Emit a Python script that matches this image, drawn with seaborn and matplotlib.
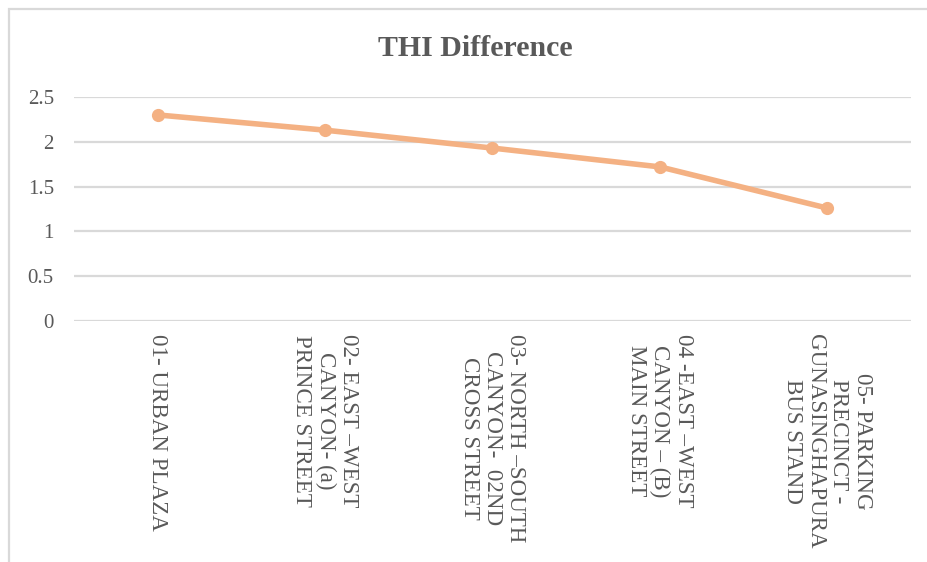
import matplotlib
matplotlib.use("Agg")
import matplotlib.pyplot as plt
import seaborn as sns
import pandas as pd
from matplotlib.patches import Rectangle

categories = [
    "01- URBAN PLAZA",
    "02- EAST \u2013WEST\nCANYON- (a)\nPRINCE STREET",
    "03- NORTH \u2013SOUTH\nCANYON-  02ND\nCROSS STREET",
    "04 -EAST \u2013WEST\nCANYON \u2013 (B)\nMAIN STREET",
    "05- PARKING\nPRECINCT -\nGUNASINGHAPURA\nBUS STAND",
]
thi_difference = [2.30, 2.13, 1.93, 1.72, 1.26]
y_ticks = [0, 0.5, 1, 1.5, 2, 2.5]
y_tick_labels = ["0", "0.5", "1", "1.5", "2", "2.5"]

sns.set_theme(style="white")
plt.rcParams["font.family"] = ["Liberation Serif", "DejaVu Serif"]

TEXT = "#595959"
GRID = "#D9D9D9"
LINE = "#F4B183"

fig = plt.figure(figsize=(9.28, 5.62), dpi=100)
ax = fig.add_axes([74 / 928, 1 - 321 / 562, (911 - 74) / 928, (321 - 97) / 562])

df = pd.DataFrame({"cat": categories, "val": thi_difference})
sns.lineplot(data=df, x="cat", y="val", sort=False, ax=ax, color=LINE,
             linewidth=4.0, marker="o", markersize=9.5, markeredgewidth=0,
             zorder=3)

ax.set_xlim(-0.5, len(categories) - 0.5)
ax.set_ylim(0, 2.5)
ax.set_yticks(y_ticks)
ax.set_yticklabels(y_tick_labels)
ax.yaxis.grid(True, color=GRID, linewidth=1.6)
ax.xaxis.grid(False)
for s in ax.spines.values():
    s.set_visible(False)
ax.set_xlabel("")
ax.set_ylabel("")
ax.tick_params(axis="y", length=0, pad=14.5, labelsize=15, labelcolor=TEXT)
ax.tick_params(axis="x", length=0, pad=9.5, labelcolor=TEXT)
for lab in ax.get_xticklabels():
    lab.set_rotation(-90)
    lab.set_ha("center")
    lab.set_va("top")
    lab.set_multialignment("center")
    lab.set_fontsize(16.6)
    lab.set_linespacing(1.14)

fig.text(475 / 928, 1 - 48 / 562, "THI Difference", ha="center", va="center",
         fontsize=21.5, fontweight="bold", color=TEXT)

fig.patches.append(Rectangle((9 / 928, -0.1), 1.2, 1 - 9 / 562 + 0.1,
                             transform=fig.transFigure, fill=False,
                             edgecolor=GRID, linewidth=1.6))

fig.savefig("out.png", dpi=100)
